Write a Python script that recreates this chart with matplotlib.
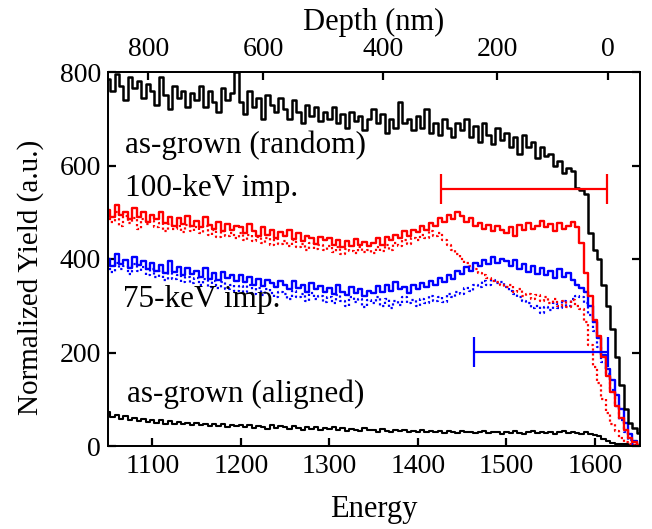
import matplotlib
matplotlib.use("Agg")
import matplotlib.pyplot as plt
import numpy as np

plt.rcParams["font.family"] = ["Liberation Serif", "DejaVu Serif"]
plt.rcParams["font.size"] = 20

# channel energies (5 keV per channel)
energy = np.arange(1050, 1651, 5)

# as-grown, random
black_random = [
    785, 760, 795, 770, 740, 790, 765, 780, 745, 775,
    760, 730, 790, 750, 720, 770, 745, 760, 725, 755,
    740, 770, 725, 760, 735, 715, 765, 740, 755, 800,
    735, 710, 760, 725, 745, 700, 750, 730, 715, 745,
    720, 700, 740, 715, 690, 730, 705, 725, 695, 715,
    700, 725, 690, 710, 680, 715, 695, 705, 675, 700,
    720, 690, 710, 670, 700, 680, 735, 690, 700, 675,
    705, 680, 720, 670, 690, 665, 700, 680, 660, 690,
    675, 700, 660, 685, 650, 690, 665, 645, 680, 655,
    670, 640, 660, 625, 665, 640, 650, 615, 640, 620,
    625, 600, 610, 585, 595, 588, 552, 548, 540, 455,
    420, 400, 345, 300, 250, 190, 130, 80, 50, 38,
    28]

# 100-keV implanted, random (solid) / aligned (dotted)
red_solid = [
    505, 490, 515, 495, 500, 485, 510, 490, 500, 480,
    495, 485, 500, 478, 490, 470, 488, 475, 492, 470,
    482, 468, 490, 472, 465, 480, 460, 475, 462, 470,
    468, 455, 475, 460, 450, 468, 452, 462, 445, 458,
    450, 462, 442, 455, 438, 450, 445, 432, 448, 440,
    445, 430, 440, 425, 438, 428, 442, 430, 436, 428,
    435, 445, 430, 448, 440, 452, 445, 460, 450, 462,
    458, 470, 462, 478, 470, 488, 480, 495, 485, 500,
    492, 480, 488, 470, 478, 465, 472, 460, 470, 462,
    455, 468, 450, 472, 462, 478, 465, 470, 482, 468,
    475, 460, 478, 465, 470, 480, 468, 435, 370, 320,
    270, 235, 190, 150, 115, 85, 60, 35, 18, 8,
    2]

red_dotted = [
    495, 480, 500, 470, 492, 478, 488, 465, 485, 475,
    482, 468, 478, 460, 475, 465, 470, 458, 472, 460,
    468, 455, 470, 452, 462, 448, 460, 450, 455, 445,
    455, 440, 452, 438, 448, 435, 445, 430, 442, 432,
    438, 428, 440, 425, 432, 420, 435, 422, 430, 420,
    428, 415, 425, 410, 422, 418, 412, 425, 415, 420,
    412, 425, 418, 430, 420, 435, 428, 440, 432, 445,
    440, 452, 445, 460, 450, 455, 440, 430, 420, 410,
    400, 392, 385, 378, 370, 365, 360, 352, 350, 345,
    340, 345, 330, 335, 320, 325, 315, 322, 310, 318,
    305, 315, 300, 310, 298, 312, 300, 292, 265, 215,
    168, 135, 100, 70, 48, 32, 18, 8, 4, 2,
    0]

# 75-keV implanted, random (solid) / aligned (dotted)
blue_solid = [
    400, 385, 410, 390, 398, 380, 405, 388, 395, 378,
    392, 375, 388, 370, 395, 372, 382, 365, 380, 368,
    375, 362, 380, 358, 370, 355, 372, 360, 365, 352,
    365, 350, 362, 345, 358, 342, 355, 348, 340, 352,
    345, 335, 352, 338, 345, 330, 348, 336, 342, 330,
    338, 325, 345, 330, 322, 340, 328, 335, 320, 332,
    328, 342, 330, 345, 332, 350, 335, 340, 328, 345,
    335, 348, 340, 352, 345, 360, 350, 365, 358, 375,
    368, 382, 375, 392, 385, 398, 390, 405, 392, 400,
    395, 385, 398, 378, 390, 372, 385, 368, 380, 365,
    375, 360, 378, 362, 370, 355, 345, 338, 330, 300,
    265, 232, 195, 165, 141, 110, 80, 50, 25, 10,
    3]

blue_dotted = [
    388, 372, 392, 378, 385, 368, 390, 375, 382, 365,
    378, 362, 375, 355, 370, 358, 365, 350, 362, 348,
    360, 345, 358, 340, 352, 338, 350, 335, 345, 332,
    342, 330, 345, 325, 338, 322, 335, 328, 318, 330,
    325, 315, 332, 318, 325, 310, 328, 315, 320, 308,
    318, 305, 322, 310, 300, 318, 308, 315, 298, 312,
    305, 318, 300, 315, 295, 310, 302, 318, 305, 312,
    300, 315, 305, 320, 310, 318, 308, 325, 318, 330,
    325, 338, 332, 345, 340, 352, 345, 355, 348, 350,
    340, 332, 325, 318, 310, 305, 295, 300, 285, 298,
    290, 305, 295, 310, 300, 315, 320, 318, 305, 280,
    245, 212, 180, 155, 120, 85, 55, 30, 12, 4,
    0]

# as-grown, aligned
black_aligned = [
    72, 62, 66, 58, 64, 56, 60, 54, 58, 52,
    56, 50, 55, 48, 53, 47, 52, 46, 50, 45,
    50, 44, 48, 42, 47, 43, 46, 40, 45, 42,
    44, 40, 45, 38, 43, 41, 37, 44, 39, 42,
    40, 36, 42, 38, 35, 40, 37, 41, 34, 38,
    36, 40, 34, 38, 33, 37, 35, 32, 38, 34,
    35, 31, 36, 33, 30, 35, 32, 34, 30, 33,
    31, 34, 29, 33, 30, 32, 28, 33, 30, 27,
    32, 29, 31, 27, 30, 33, 28, 31, 29, 26,
    30, 27, 32, 28, 26, 30, 33, 28, 30, 27,
    29, 26, 30, 33, 28, 30, 27, 25, 29, 26,
    24, 22, 16, 10, 6, 5, 4, 4, 3, 3,
    3]

# depth scale (top axis): tick positions in energy
depth_labels = ["800", "600", "400", "200", "0"]
depth_energy = [1095.5, 1225.3, 1360.7, 1489.4, 1614.7]

# range bars: (start energy, end energy, yield)
red_bar = [1426, 1613.5, 550]
blue_bar = [1463.4, 1614.3, 201]

fig = plt.figure(figsize=(6.52, 5.29), dpi=100)
ax = fig.add_axes([108 / 652, 83 / 529, 532 / 652, 374 / 529])

ax.plot(energy, black_aligned, color="black", lw=1.5, drawstyle="steps-mid")
ax.plot(energy, blue_dotted, color="blue", lw=1.6, ls=(0, (1, 1.2)), drawstyle="steps-mid")
ax.plot(energy, red_dotted, color="red", lw=1.6, ls=(0, (1, 1.2)), drawstyle="steps-mid")
ax.plot(energy, blue_solid, color="blue", lw=1.7, drawstyle="steps-mid")
ax.plot(energy, red_solid, color="red", lw=1.7, drawstyle="steps-mid")
ax.plot(energy, black_random, color="black", lw=1.8, drawstyle="steps-mid")

for bar, col in [(red_bar, "red"), (blue_bar, "blue")]:
    x0, x1, yv = bar
    ax.errorbar((x0 + x1) / 2, yv, xerr=(x1 - x0) / 2, color=col, lw=1.6,
                capsize=11, capthick=1.6)

ax.set_xlim(1050, 1651)
ax.set_ylim(0, 800)
ax.set_xticks([1100, 1200, 1300, 1400, 1500, 1600])
ax.set_yticks([0, 200, 400, 600, 800])
ax.tick_params(direction="in", length=6, width=1.6, labelsize=20, pad=6)
ax.tick_params(axis="y", right=True, pad=5)
for sp in ax.spines.values():
    sp.set_linewidth(1.3)

ax.set_xlabel("Energy", fontsize=22, labelpad=11)
ax.set_ylabel("Normalized Yield (a.u.)", fontsize=21)
ax.yaxis.set_label_coords(-0.12, 0.452)

# top depth axis
top = ax.twiny()
top.set_xlim(ax.get_xlim())
top.set_xticks(depth_energy)
top.set_xticklabels(depth_labels)
top.tick_params(direction="in", length=6, width=1.6, labelsize=20, pad=7)
top.set_xlabel("Depth (nm)", fontsize=22, labelpad=5)
for sp in top.spines.values():
    sp.set_linewidth(1.3)

ax.text(1069.5, 627, "as-grown (random)", fontsize=22.5, va="baseline")
ax.text(1069.5, 534, "100-keV imp.", fontsize=22.5, va="baseline")
ax.text(1067, 298, "75-keV imp.", fontsize=22.5, va="baseline")
ax.text(1072, 94, "as-grown (aligned)", fontsize=22.5, va="baseline")

fig.savefig("out.png", dpi=100)
